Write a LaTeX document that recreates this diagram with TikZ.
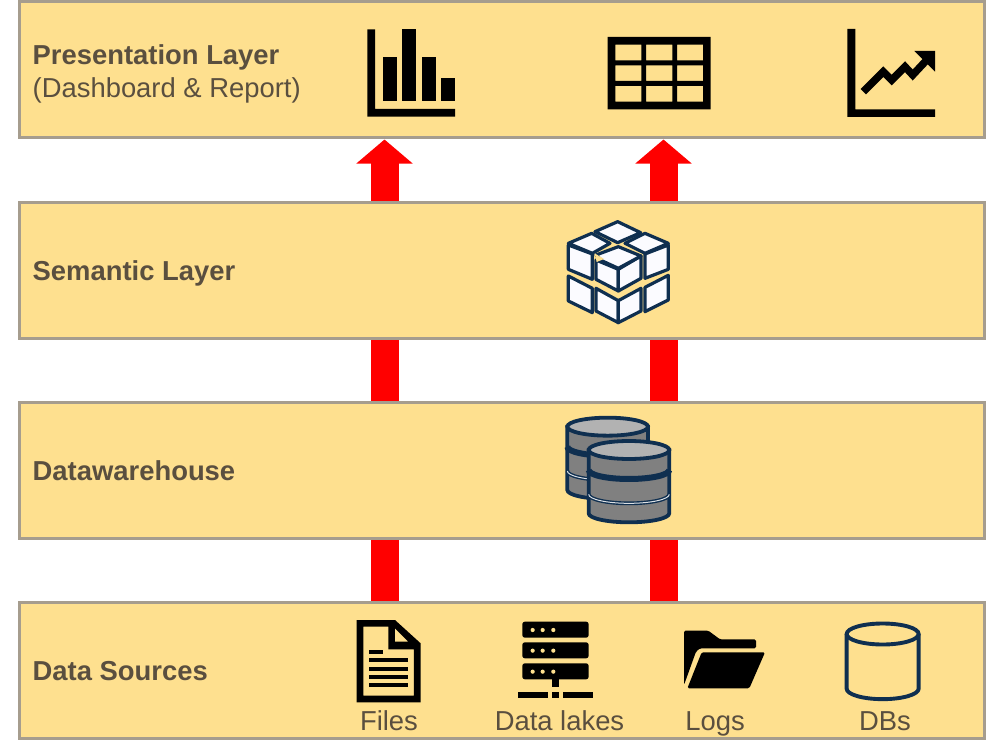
\documentclass[tikz,border=0pt]{standalone}
\usepackage{fontspec}
\setmainfont{Liberation Sans}
\usetikzlibrary{arrows.meta}
\definecolor{BandClr}{HTML}{FEE08F}
\definecolor{EdgeClr}{HTML}{A69D8E}
\definecolor{LabelClr}{HTML}{5A4F3F}
\definecolor{NavyClr}{HTML}{0F2F50}
\definecolor{CubeClr}{HTML}{FBFBFF}
\tikzset{
  layerbox/.style={draw=EdgeClr,fill=BandClr,line width=3pt,minimum width=965pt,minimum height=136pt,inner sep=0pt,outer sep=1.5pt},
  layertext/.style={anchor=base west,inner sep=0pt,text=LabelClr,font=\fontsize{27.4}{27.4}\selectfont\bfseries},
  layernote/.style={layertext,font=\fontsize{27.4}{27.4}\selectfont},
  iconlabel/.style={anchor=base,inner sep=0pt,text=LabelClr,font=\fontsize{27.4}{27.4}\selectfont},
  redlink/.style={draw=red,line width=28pt},
  cubeface/.style={draw=NavyClr,fill=CubeClr,line width=3.2pt,line join=round},
  dbline/.style={draw=NavyClr,line width=3.8pt}
}
\begin{document}
\begin{tikzpicture}[x=1pt,y=-1pt]
\useasboundingbox (0,0) rectangle (990,749);

% layers
\node[layerbox] (present) at (501.5,70) {};
\node[layerbox] (semantic) at (501.5,270) {};
\node[layerbox] (warehouse) at (501.5,470) {};
\node[layerbox] (sources) at (501.5,670) {};

\node[layertext] (presenttext) at (32.5,64.5) {Presentation Layer};
\node[layernote] (presentnote) at (32.5,97.5) {(Dashboard \& Report)};
\node[layertext] (semantictext) at (32.5,280.5) {Semantic Layer};
\node[layertext] (warehousetext) at (32.5,480.5) {Datawarehouse};
\node[layertext] (sourcestext) at (32.5,680.5) {Data Sources};

% red links
\coordinate (colone) at (384.5,0);
\coordinate (coltwo) at (663.5,0);
\draw[redlink,-{Triangle[width=55pt,length=24pt]}] (colone |- semantic.north) -- (colone |- present.south);
\draw[redlink,-{Triangle[width=55pt,length=24pt]}] (coltwo |- semantic.north) -- (coltwo |- present.south);
\draw[redlink] (colone |- warehouse.north) -- (colone |- semantic.south);
\draw[redlink] (coltwo |- warehouse.north) -- (coltwo |- semantic.south);
\draw[redlink] (colone |- sources.north) -- (colone |- warehouse.south);
\draw[redlink] (coltwo |- sources.north) -- (coltwo |- warehouse.south);

% bar chart
\fill (367.3,29.3) -- (375,29.3) -- (375,109) -- (455,109) -- (455,116.7) -- (367.3,116.7) -- cycle;
\fill (383,56.7) rectangle (397,101.3);
\fill (402.3,29.3) rectangle (416.3,101.3);
\fill (421.7,56.7) rectangle (436,101.3);
\fill (441.3,78.3) rectangle (455,101.3);

% table
\fill[even odd rule] (607.7,37) rectangle (710.7,109.3)
  (615.3,44.7) rectangle (641.3,60.3) (646,44.7) rectangle (672.3,60.3) (677,44.7) rectangle (703,60.3)
  (615.3,65.3) rectangle (641.3,81) (646,65.3) rectangle (672.3,81) (677,65.3) rectangle (703,81)
  (615.3,86) rectangle (641.3,101.7) (646,86) rectangle (672.3,101.7) (677,86) rectangle (703,101.7);

% line chart
\fill (847.3,29) -- (855.3,29) -- (855.3,109.3) -- (935,109.3) -- (935,117) -- (847.3,117) -- cycle;
\draw[line width=7.5pt] (863.3,91.7) -- (883.3,71.7) -- (891.7,80) -- (905,66.7) -- (912.7,75) -- (928.3,58.3);
\fill (914.3,51) -- (935,51) -- (935,71.7) -- cycle;

% cube
\begin{scope}[shift={(550,210)},x=.3333pt,y=-.3333pt]
\draw[cubeface] (203,35) -- (272,68) -- (203,98) -- (135,65) -- cycle;
\draw[cubeface] (125,70) -- (180,100) -- (127,130) -- (55,100) -- cycle;
\draw[cubeface] (285,70) -- (355,100) -- (285,130) -- (225,100) -- cycle;
\draw[cubeface] (55,105) -- (127,132) -- (127,208) -- (55,178) -- cycle;
\draw[cubeface] (355,105) -- (285,132) -- (285,205) -- (355,178) -- cycle;
\draw[cubeface] (55,198) -- (127,235) -- (127,308) -- (55,273) -- cycle;
\draw[cubeface] (355,196) -- (285,232) -- (285,305) -- (355,270) -- cycle;
\draw[cubeface] (138,235) -- (205,272) -- (205,338) -- (138,303) -- cycle;
\draw[cubeface] (273,235) -- (205,272) -- (205,338) -- (273,303) -- cycle;
\draw[cubeface] (138,150) -- (205,178) -- (205,243) -- (138,208) -- cycle;
\draw[cubeface] (273,138) -- (205,178) -- (205,243) -- (273,205) -- cycle;
\draw[cubeface] (205,110) -- (273,138) -- (205,175) -- (155,152) -- (138,135) -- cycle;
\fill[BandClr] (134,130) -- (162,147) -- (140,156) -- cycle;
\end{scope}

% database stack
\begin{scope}[shift={(550,405)},x=.3333pt,y=-.3333pt]
\foreach \cx/\cy in {173/65,237/135}{
  \begin{scope}[shift={(\cx,\cy)}]
  \draw[dbline,fill=gray] (-121,0) -- (-121,190) arc[start angle=180,end angle=360,x radius=40.3pt,y radius=9pt] -- (121,0) -- cycle;
  \draw[dbline,line width=6pt] (-121,60) arc[start angle=180,end angle=360,x radius=40.3pt,y radius=9pt];
  \draw[dbline] (-121,133) arc[start angle=180,end angle=360,x radius=40.3pt,y radius=9pt];
  \draw[draw=white!85!NavyClr,line width=1pt] (-121,133) arc[start angle=180,end angle=360,x radius=40.3pt,y radius=9pt];
  \draw[dbline,fill=gray!60] (0,0) ellipse [x radius=40.3pt,y radius=9pt];
  \end{scope}
}
\end{scope}

% file
\begin{scope}[shift={(340,610)},x=.3333pt,y=-.3333pt]
\fill[even odd rule] (50,30) -- (165,30) -- (242,100) -- (242,277) -- (50,277) -- cycle
  (70,50) -- (145,50) -- (145,118) -- (222,118) -- (222,257) -- (70,257) -- cycle
  (165,55) -- (205,95) -- (165,95) -- cycle;
\fill (88,120) rectangle (128,132);
\foreach \ly in {145,170,195,220}{
  \fill (88,\ly) rectangle (205,\ly+12);
}

% server
\foreach \ry in {35,97,160}{
  \fill[rounded corners=2.5pt] (547,\ry) rectangle (746,\ry+48);
  \foreach \dx in {578,608,640}{
    \fill[BandClr] (\dx,\ry+25) circle [radius=2.1pt];
  }
}
\fill (636,208) rectangle (656,232);
\fill (535,245) rectangle (625,264);
\fill (636,245) rectangle (656,264);
\fill (668,245) rectangle (758,264);
\end{scope}

% folder
\begin{scope}[shift={(660,610)},x=.3333pt,y=-.3333pt]
\fill[rounded corners=1.5pt] (72,225) -- (72,62) -- (145,62) -- (180,88) -- (288,88) -- (288,115) -- (120,115) -- (108,125) -- cycle;
\fill[rounded corners=1.5pt] (125,127) -- (315,127) -- (268,235) -- (82,235) -- cycle;

% plain database
\draw[NavyClr,line width=3.9pt] (560,72) -- (560,236) arc[start angle=180,end angle=360,x radius=36pt,y radius=10.5pt] -- (776,72);
\draw[NavyClr,line width=3.9pt] (668,72) ellipse [x radius=36pt,y radius=10.5pt];
\end{scope}

\node[iconlabel] (fileslabel) at (389,730) {Files};
\node[iconlabel] (lakeslabel) at (559.5,730) {Data lakes};
\node[iconlabel] (logslabel) at (715,730) {Logs};
\node[iconlabel] (dbslabel) at (885,730) {DBs};

\end{tikzpicture}
\end{document}
